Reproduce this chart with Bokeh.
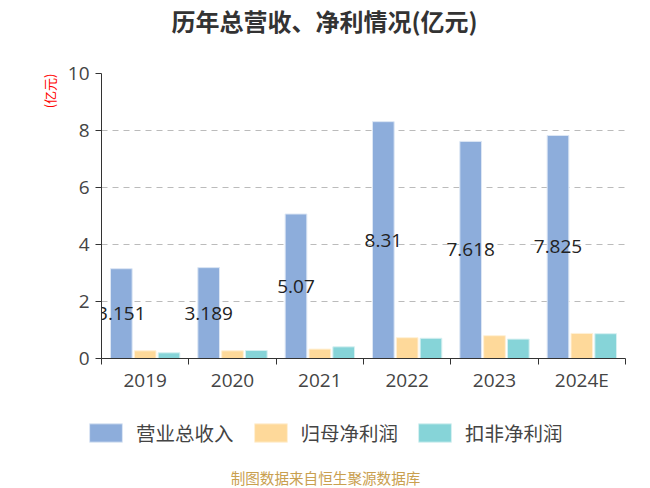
import numpy as np
from bokeh.plotting import figure
from bokeh.layouts import column
from bokeh.models import (ColumnDataSource, Range1d, FixedTicker, Legend, LegendItem, Title, Label)
from bokeh.core.properties import value
from bokeh.embed import file_html
from bokeh.resources import INLINE

years = ["2019", "2020", "2021", "2022", "2023", "2024E"]
revenue = [3.151, 3.189, 5.07, 8.31, 7.618, 7.825]
revenue_labels = ["3.151", "3.189", "5.07", "8.31", "7.618", "7.825"]
net_profit = [0.27, 0.27, 0.33, 0.73, 0.80, 0.88]
net_profit_deducted = [0.20, 0.28, 0.41, 0.71, 0.68, 0.87]
y_ticks = [0, 2, 4, 6, 8, 10]
series_names = ["营业总收入", "归母净利润", "扣非净利润"]
series_colors = ["#8DADDB", "#FED99A", "#86D4D8"]
series_edges = ["#DCE6F4", "#FFF0D6", "#D6F0F1"]

CJK = "Noto Sans CJK SC"
NUM = "Open Sans"
W = 650


def blank(h):
    f = figure(width=W, height=h, output_backend="svg", toolbar_location=None,
               x_range=Range1d(0, W), y_range=Range1d(0, h),
               x_axis_type=None, y_axis_type=None,
               min_border_left=0, min_border_right=0, min_border_top=0, min_border_bottom=0)
    f.frame_align = False
    f.outline_line_color = None
    f.xgrid.grid_line_color = None
    f.ygrid.grid_line_color = None
    f.background_fill_color = "white"
    f.border_fill_color = "white"
    return f


# ---- title strip ----
pt = blank(40)
pt.add_layout(Label(x=324, y=20, text="历年总营收、净利情况(亿元)", text_align="center",
                    text_baseline="middle", text_font=CJK, text_font_size="24px",
                    text_font_style="bold", text_color="#333333"))

# ---- main chart ----
idx = np.arange(len(years))
centers = idx + 0.5
off = 0.273
bw = 0.248

src = ColumnDataSource(dict(
    xr=centers - off, xn=centers, xd=centers + off,
    rev=revenue, rev_half=[v / 2 for v in revenue], rev_lab=revenue_labels,
    net=net_profit, ded=net_profit_deducted,
))

p = figure(width=W, height=360, output_backend="svg", toolbar_location=None,
           x_range=Range1d(0, len(years)), y_range=Range1d(0, 10),
           min_border_left=101, min_border_right=25, min_border_top=33, min_border_bottom=42)
p.frame_align = False
p.outline_line_color = None
p.background_fill_color = "white"
p.border_fill_color = "white"

p.vbar(x="xr", top="rev", width=bw, source=src, fill_color=series_colors[0], line_color=series_edges[0], line_width=1)
p.vbar(x="xn", top="net", width=bw, source=src, fill_color=series_colors[1], line_color=series_edges[1], line_width=1)
p.vbar(x="xd", top="ded", width=bw, source=src, fill_color=series_colors[2], line_color=series_edges[2], line_width=1)

p.text(x="xr", y="rev_half", text="rev_lab", source=src, text_align="center", text_baseline="middle",
       text_font=value(NUM), text_font_size="19px", text_color="#222222")

xa = p.xaxis[0]
xa.ticker = FixedTicker(ticks=list(centers), minor_ticks=list(range(len(years) + 1)))
xa.major_label_overrides = {float(c): y for c, y in zip(centers, years)}
xa.major_tick_line_color = None
xa.major_tick_out = 0
xa.minor_tick_out = 6
xa.minor_tick_in = 0
xa.minor_tick_line_color = "#333333"
xa.axis_line_color = "#333333"
xa.major_label_text_font = NUM
xa.major_label_text_font_size = "19px"
xa.major_label_text_color = "#444444"
xa.major_label_standoff = 2

ya = p.yaxis[0]
ya.ticker = FixedTicker(ticks=y_ticks)
ya.minor_tick_line_color = None
ya.major_tick_out = 6
ya.major_tick_in = 0
ya.major_tick_line_color = "#333333"
ya.axis_line_color = "#333333"
ya.major_label_text_font = NUM
ya.major_label_text_font_size = "19px"
ya.major_label_text_color = "#444444"
ya.major_label_standoff = 6

p.xgrid.grid_line_color = None
p.ygrid.grid_line_color = "#BBBBBB"
p.ygrid.grid_line_dash = "6 5"
p.ygrid.grid_line_width = 1

p.add_layout(Title(text="(亿元)", align="right", standoff=12, text_font=CJK, text_font_size="13px",
                   text_font_style="normal", text_color="#FF0000"), "left")

# ---- legend + footer strip ----
pb = blank(88)
items = []
for name, col, edge in zip(series_names, series_colors, series_edges):
    # placeholder renderer with no drawable position; only feeds the legend swatch
    r = pb.vbar(x=[np.nan], top=[np.nan], width=1, fill_color=col, line_color=edge)
    items.append(LegendItem(label=name, renderers=[r]))
legend = Legend(items=items, orientation="horizontal", location=(85, 41), padding=0, margin=0,
                border_line_color=None, background_fill_alpha=0,
                glyph_width=41, glyph_height=23, label_standoff=10, spacing=16,
                label_text_font=CJK, label_text_font_size="19.5px", label_text_color="#444444")
pb.add_layout(legend, "center")
pb.add_layout(Label(x=325, y=11, text="制图数据来自恒生聚源数据库", text_align="center",
                    text_baseline="middle", text_font=CJK, text_font_size="14.6px",
                    text_color="#C9A04F"))

layout = column(pt, p, pb, spacing=0)
open("out.html", "w").write(file_html(layout, INLINE))
